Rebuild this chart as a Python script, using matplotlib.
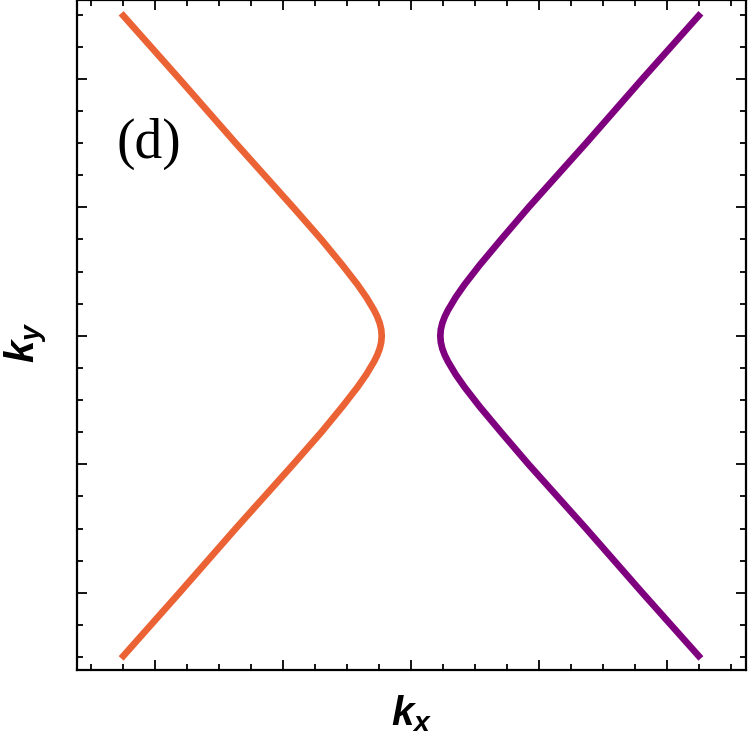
"""Two hyperbolic branches in the (kx, ky) plane, panel (d)."""

import matplotlib
matplotlib.use("Agg")
import matplotlib.pyplot as plt
from matplotlib.ticker import MultipleLocator

plt.rcParams["mathtext.fontset"] = "custom"
plt.rcParams["mathtext.bfit"] = "Liberation Sans:bold:italic"
plt.rcParams["mathtext.rm"] = "Liberation Sans"

# Left branch (orange), top to bottom
ky_left = [2.51, 2.0, 1.5, 1.0, 0.75, 0.55, 0.4, 0.3, 0.2, 0.15, 0.1, 0.05, 0.0,
           -0.05, -0.1, -0.15, -0.2, -0.3, -0.4, -0.55, -0.75, -1.0, -1.5, -2.0, -2.51]
kx_left = [-2.265, -1.81, -1.37, -0.92, -0.70, -0.535, -0.418, -0.348, -0.288,
           -0.263, -0.244, -0.232, -0.228,
           -0.232, -0.244, -0.263, -0.288, -0.348, -0.418, -0.535, -0.70, -0.92,
           -1.37, -1.81, -2.265]

# Right branch (purple)
ky_right = [2.51, 2.0, 1.5, 1.0, 0.75, 0.55, 0.4, 0.3, 0.2, 0.15, 0.1, 0.05, 0.0,
            -0.05, -0.1, -0.15, -0.2, -0.3, -0.4, -0.55, -0.75, -1.0, -1.5, -2.0, -2.51]
kx_right = [2.267, 1.81, 1.37, 0.92, 0.705, 0.537, 0.42, 0.35, 0.29,
            0.265, 0.246, 0.234, 0.23,
            0.234, 0.246, 0.265, 0.29, 0.35, 0.42, 0.537, 0.705, 0.92,
            1.37, 1.81, 2.267]

panel_label = "(d)"

fig = plt.figure(figsize=(7.5, 7.46), dpi=100)
ax = fig.add_axes([0.1027, 0.1019, 0.892, 0.8975])

ax.plot(kx_left, ky_left, color="#EB6235", lw=4.8, solid_capstyle="butt",
        solid_joinstyle="round")
ax.plot(kx_right, ky_right, color="#7F007F", lw=4.8, solid_capstyle="butt",
        solid_joinstyle="round")

ax.set_xlim(-2.61, 2.62)
ax.set_ylim(-2.6, 2.61)

ax.xaxis.set_major_locator(MultipleLocator(1))
ax.xaxis.set_minor_locator(MultipleLocator(0.25))
ax.yaxis.set_major_locator(MultipleLocator(1))
ax.yaxis.set_minor_locator(MultipleLocator(0.25))
ax.tick_params(which="both", direction="in", top=True, right=True,
               labelbottom=False, labelleft=False, width=1.3, color="black")
ax.tick_params(which="major", length=7.5)
ax.tick_params(which="minor", length=4)
for sp in ax.spines.values():
    sp.set_linewidth(1.6)

ax.set_xlabel(r"$\mathbfit{k_x}$", fontsize=29)
ax.set_ylabel(r"$\mathbfit{k_y}$", fontsize=29)
ax.xaxis.set_label_coords(0.5, -0.035)
ax.yaxis.set_label_coords(-0.04, 0.49)

ax.text(0.059, 0.785, panel_label, transform=ax.transAxes,
        fontsize=40, family="Liberation Serif", va="center", ha="left")

fig.savefig("out.png", dpi=100)
